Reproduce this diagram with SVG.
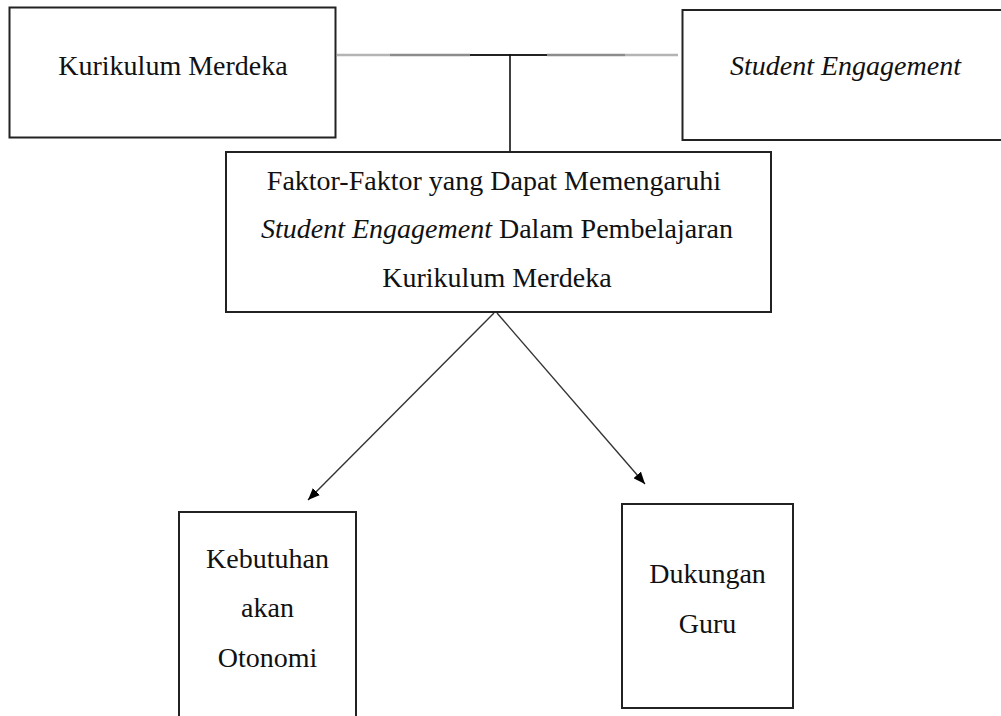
<svg xmlns="http://www.w3.org/2000/svg" width="1001" height="716" viewBox="0 0 1001 716">
<style>
.box{fill:#fff;stroke:#222;stroke-width:2}
.t{font-family:"Liberation Serif","Times New Roman",serif;font-size:28px;fill:#111;text-anchor:middle}
.i{font-style:italic}
.ar{stroke:#333;stroke-width:1.4;fill:none}
</style>
<defs>
<marker id="ah" viewBox="0 0 12 10" refX="12" refY="5" markerWidth="12" markerHeight="10" markerUnits="userSpaceOnUse" orient="auto">
<path d="M0,0 L12,5 L0,10 Z" fill="#000"/>
</marker>
</defs>
<rect width="1001" height="716" fill="#fff"/>
<g id="connectors">
<line x1="337" y1="55" x2="390" y2="55" stroke="#b4b4b4" stroke-width="2.6"/>
<line x1="390" y1="55" x2="470" y2="55" stroke="#8c8c8c" stroke-width="2.4"/>
<line x1="470" y1="55" x2="547" y2="55" stroke="#222" stroke-width="2"/>
<line x1="547" y1="55" x2="625" y2="55" stroke="#8c8c8c" stroke-width="2.4"/>
<line x1="625" y1="55" x2="678" y2="55" stroke="#b4b4b4" stroke-width="2.6"/>
<line x1="510" y1="54" x2="510" y2="152" stroke="#111" stroke-width="1.6"/>
<line class="ar" x1="494" y1="313" x2="308" y2="500" marker-end="url(#ah)"/>
<line class="ar" x1="497" y1="313" x2="645" y2="484" marker-end="url(#ah)"/>
</g>
<g id="n-kurikulum">
<rect class="box" x="9.5" y="7.5" width="326" height="130"/>
<text class="t" x="173" y="75">Kurikulum Merdeka</text>
</g>
<g id="n-student">
<rect class="box" x="682.5" y="10" width="330" height="130"/>
<text class="t i" x="845.5" y="75">Student Engagement</text>
</g>
<g id="n-faktor">
<rect class="box" x="226" y="152" width="545" height="160"/>
<text class="t" x="494" y="190">Faktor-Faktor yang Dapat Memengaruhi</text>
<text class="t" x="497" y="238"><tspan class="i">Student Engagement</tspan> Dalam Pembelajaran</text>
<text class="t" x="497" y="287">Kurikulum Merdeka</text>
</g>
<g id="n-kebutuhan">
<rect class="box" x="179" y="512" width="177" height="220"/>
<text class="t" x="267.5" y="568">Kebutuhan</text>
<text class="t" x="267.5" y="617">akan</text>
<text class="t" x="267.5" y="667">Otonomi</text>
</g>
<g id="n-dukungan">
<rect class="box" x="622" y="504" width="171" height="204"/>
<text class="t" x="707.5" y="583">Dukungan</text>
<text class="t" x="707.5" y="633">Guru</text>
</g>
</svg>
